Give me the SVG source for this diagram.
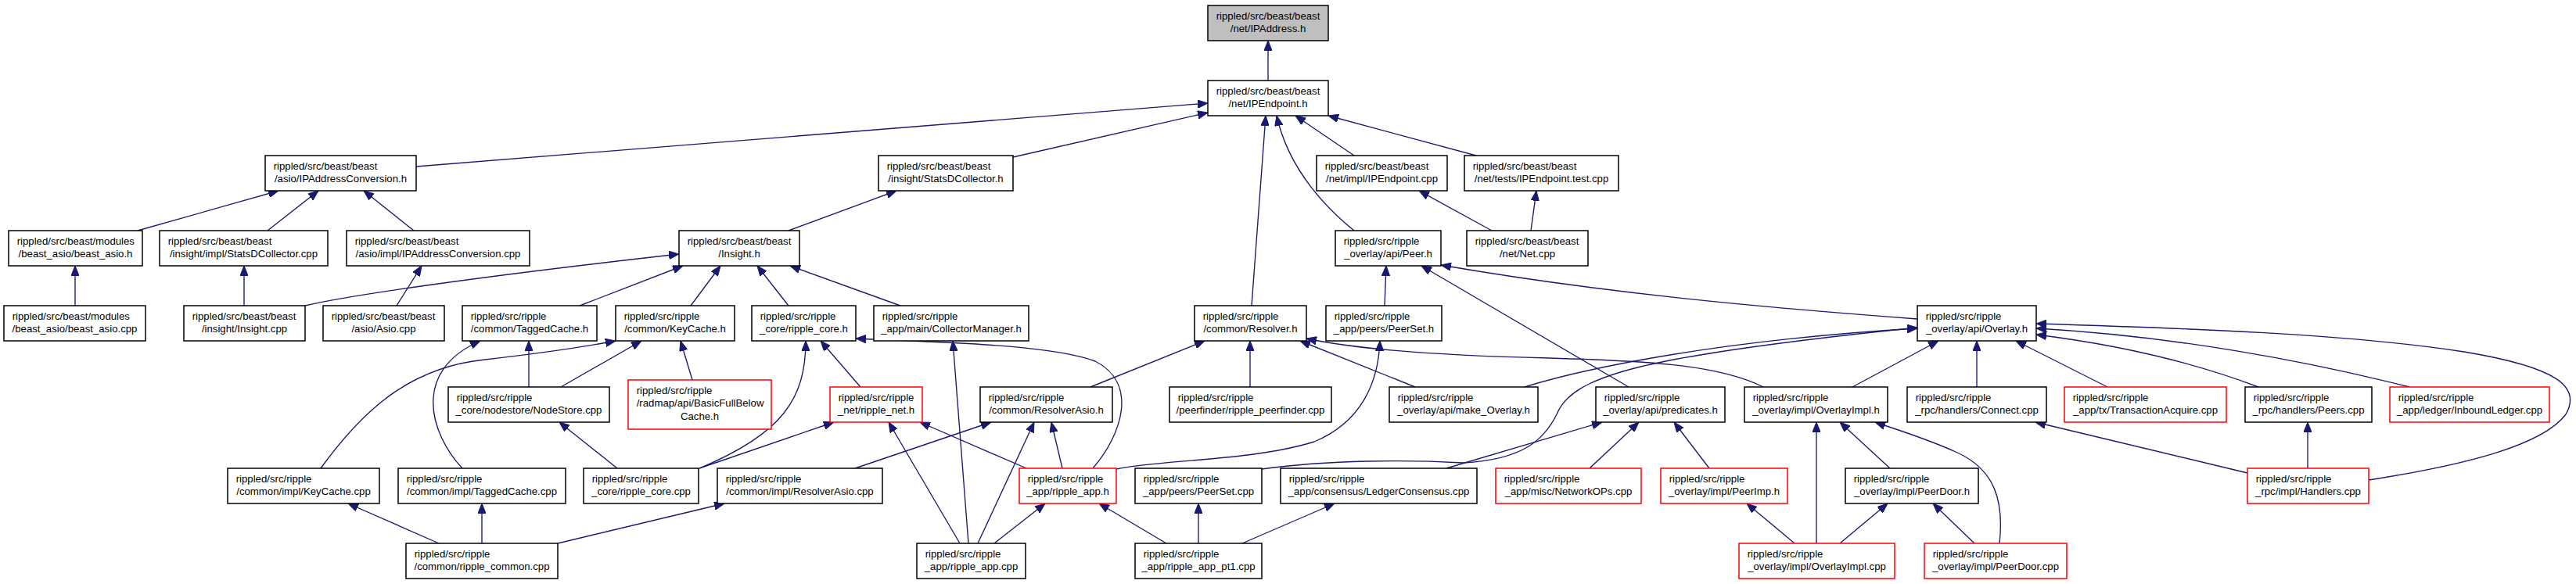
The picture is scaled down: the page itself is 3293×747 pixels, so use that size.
<svg xmlns="http://www.w3.org/2000/svg" width="3293" height="747" viewBox="0 0 3293 747">
<style>
.node rect{fill:#fff;stroke:#000;stroke-width:1.5}
.node rect.red{stroke:#f00}
.node rect.root{fill:#bfbfbf}
text{font-family:"Liberation Sans",Arial,Helvetica,sans-serif;font-size:13.2px;fill:#000}
text.c{text-anchor:middle}
#edges path{fill:none;stroke:#191970;stroke-width:1.35;marker-end:url(#ah)}
</style>
<defs>
<marker id="ah" viewBox="0 0 13 10.5" refX="13" refY="5.25" markerWidth="13" markerHeight="10.5" markerUnits="userSpaceOnUse" orient="auto">
<path d="M0,0 L13,5.25 L0,10.5 Z" fill="#191970" stroke="#191970" stroke-width="1"/>
</marker>
</defs>
<rect width="3293" height="747" fill="#fff"/>
<g id="edges">
<path d="M1621,103 L1621,52"/>
<path d="M532,213 L1544,132"/>
<path d="M1295,201 L1544,144"/>
<path d="M1731,199 L1656,148"/>
<path d="M1887,199 L1698,148"/>
<path d="M1600,391 L1618,148"/>
<path d="M1731,295 C1700,270 1648,220 1632,148"/>
<path d="M176,295 L356,244"/>
<path d="M342,295 L407,244"/>
<path d="M529,295 L465,244"/>
<path d="M96,391 L96,340"/>
<path d="M312,391 L312,340"/>
<path d="M507,391 L539,340"/>
<path d="M390,391 C440,379 600,355 868,325"/>
<path d="M741,391 L873,340"/>
<path d="M883,391 L921,340"/>
<path d="M1008,391 L968,340"/>
<path d="M1151,391 L1010,340"/>
<path d="M1008,295 L1146,244"/>
<path d="M1907,295 L1814,244"/>
<path d="M1957,295 L1964,244"/>
<path d="M676,495 L676,436"/>
<path d="M591,599 C550,555 525,475 614,436"/>
<path d="M717,495 L820,436"/>
<path d="M410,599 C460,530 520,470 620,460 C690,452 740,445 787,436"/>
<path d="M561,695 L445,644"/>
<path d="M616,695 L616,644"/>
<path d="M713,695 L926,644"/>
<path d="M789,599 L715,540"/>
<path d="M885,486 L870,436"/>
<path d="M894,599 C1000,555 1030,510 1030,436"/>
<path d="M894,599 L1066,540"/>
<path d="M1100,495 L1049,436"/>
<path d="M1397,599 C1435,555 1455,490 1400,462 C1340,440 1200,438 1094,433"/>
<path d="M1238,695 L1218,436"/>
<path d="M1227,695 L1136,540"/>
<path d="M1250,695 L1322,540"/>
<path d="M1271,695 L1336,644"/>
<path d="M1312,599 L1176,540"/>
<path d="M1358,599 L1344,540"/>
<path d="M1093,599 L1267,540"/>
<path d="M1394,495 L1540,436"/>
<path d="M1598,495 L1598,436"/>
<path d="M1491,695 L1405,644"/>
<path d="M1532,695 L1532,644"/>
<path d="M1588,695 L1706,644"/>
<path d="M1427,600 C1480,588 1600,590 1680,565 C1740,540 1762,490 1764,436"/>
<path d="M1613,600 C1700,588 1800,588 1870,592 C1950,588 1975,560 1990,530 C2010,480 2100,455 2451,419"/>
<path d="M1849,599 L2048,540"/>
<path d="M1809,495 L1662,436"/>
<path d="M2254,495 C2200,468 2120,462 1980,458 C1850,455 1740,448 1670,433"/>
<path d="M1949,495 C2030,470 2200,435 2451,420"/>
<path d="M2451,408 C2250,393 2050,375 1842,339"/>
<path d="M2082,495 L1817,340"/>
<path d="M1770,391 L1772,340"/>
<path d="M2368,495 L2478,436"/>
<path d="M2527,495 L2527,436"/>
<path d="M2694,495 L2577,436"/>
<path d="M2887,495 C2800,462 2700,440 2603,428"/>
<path d="M3080,495 C2950,462 2780,430 2603,420"/>
<path d="M3028,614 C3150,595 3250,570 3280,530 C3300,495 3270,470 3150,450 C3000,427 2800,420 2603,414"/>
<path d="M2873,605 L2602,540"/>
<path d="M2950,599 L2950,540"/>
<path d="M2524,695 L2471,644"/>
<path d="M2556,695 C2562,640 2550,600 2500,578 C2460,560 2420,548 2397,540"/>
<path d="M2416,599 L2352,540"/>
<path d="M2322,695 L2322,540"/>
<path d="M2294,695 L2233,644"/>
<path d="M2352,695 L2413,644"/>
<path d="M2185,599 L2140,540"/>
<path d="M2032,599 L2095,540"/>
</g>
<g id="n0" class="node"><rect class="root" x="1544" y="7" width="154" height="45"/><text x="1554.7" y="24.5">rippled/src/beast/beast</text><text class="c" x="1621" y="41.2">/net/IPAddress.h</text></g>
<g id="n1" class="node"><rect x="1544" y="103" width="154" height="45"/><text x="1554.7" y="120.5">rippled/src/beast/beast</text><text class="c" x="1621" y="137.2">/net/IPEndpoint.h</text></g>
<g id="n2" class="node"><rect x="339" y="199" width="193" height="45"/><text x="349.7" y="216.5">rippled/src/beast/beast</text><text class="c" x="435.5" y="233.2">/asio/IPAddressConversion.h</text></g>
<g id="n3" class="node"><rect x="1123" y="199" width="172" height="45"/><text x="1133.7" y="216.5">rippled/src/beast/beast</text><text class="c" x="1209" y="233.2">/insight/StatsDCollector.h</text></g>
<g id="n4" class="node"><rect x="1683" y="199" width="167" height="45"/><text x="1693.7" y="216.5">rippled/src/beast/beast</text><text class="c" x="1766.5" y="233.2">/net/impl/IPEndpoint.cpp</text></g>
<g id="n5" class="node"><rect x="1872" y="199" width="197" height="45"/><text x="1882.7" y="216.5">rippled/src/beast/beast</text><text class="c" x="1970.5" y="233.2">/net/tests/IPEndpoint.test.cpp</text></g>
<g id="n6" class="node"><rect x="11" y="295" width="171" height="45"/><text x="21.7" y="312.5">rippled/src/beast/modules</text><text class="c" x="96.5" y="329.2">/beast_asio/beast_asio.h</text></g>
<g id="n7" class="node"><rect x="204" y="295" width="215" height="45"/><text x="214.7" y="312.5">rippled/src/beast/beast</text><text class="c" x="311.5" y="329.2">/insight/impl/StatsDCollector.cpp</text></g>
<g id="n8" class="node"><rect x="443" y="295" width="234" height="45"/><text x="453.7" y="312.5">rippled/src/beast/beast</text><text class="c" x="560" y="329.2">/asio/impl/IPAddressConversion.cpp</text></g>
<g id="n9" class="node"><rect x="868" y="295" width="154" height="45"/><text x="878.7" y="312.5">rippled/src/beast/beast</text><text class="c" x="945" y="329.2">/Insight.h</text></g>
<g id="n10" class="node"><rect x="1707" y="295" width="135" height="45"/><text x="1717.7" y="312.5">rippled/src/ripple</text><text class="c" x="1774.5" y="329.2">_overlay/api/Peer.h</text></g>
<g id="n11" class="node"><rect x="1875" y="295" width="155" height="45"/><text x="1885.7" y="312.5">rippled/src/beast/beast</text><text class="c" x="1952.5" y="329.2">/net/Net.cpp</text></g>
<g id="n12" class="node"><rect x="5" y="391" width="181" height="45"/><text x="15.7" y="408.5">rippled/src/beast/modules</text><text class="c" x="95.5" y="425.2">/beast_asio/beast_asio.cpp</text></g>
<g id="n13" class="node"><rect x="235" y="391" width="155" height="45"/><text x="245.7" y="408.5">rippled/src/beast/beast</text><text class="c" x="312.5" y="425.2">/insight/Insight.cpp</text></g>
<g id="n14" class="node"><rect x="413" y="391" width="155" height="45"/><text x="423.7" y="408.5">rippled/src/beast/beast</text><text class="c" x="490.5" y="425.2">/asio/Asio.cpp</text></g>
<g id="n15" class="node"><rect x="591" y="391" width="172" height="45"/><text x="601.7" y="408.5">rippled/src/ripple</text><text class="c" x="677" y="425.2">/common/TaggedCache.h</text></g>
<g id="n16" class="node"><rect x="787" y="391" width="152" height="45"/><text x="797.7" y="408.5">rippled/src/ripple</text><text class="c" x="863" y="425.2">/common/KeyCache.h</text></g>
<g id="n17" class="node"><rect x="961" y="391" width="133" height="45"/><text x="971.7" y="408.5">rippled/src/ripple</text><text class="c" x="1027.5" y="425.2">_core/ripple_core.h</text></g>
<g id="n18" class="node"><rect x="1117" y="391" width="198" height="45"/><text x="1127.7" y="408.5">rippled/src/ripple</text><text class="c" x="1216" y="425.2">_app/main/CollectorManager.h</text></g>
<g id="n19" class="node"><rect x="1527" y="391" width="143" height="45"/><text x="1537.7" y="408.5">rippled/src/ripple</text><text class="c" x="1598.5" y="425.2">/common/Resolver.h</text></g>
<g id="n20" class="node"><rect x="1695" y="391" width="148" height="45"/><text x="1705.7" y="408.5">rippled/src/ripple</text><text class="c" x="1769" y="425.2">_app/peers/PeerSet.h</text></g>
<g id="n21" class="node"><rect x="2451" y="391" width="152" height="45"/><text x="2461.7" y="408.5">rippled/src/ripple</text><text class="c" x="2527" y="425.2">_overlay/api/Overlay.h</text></g>
<g id="n22" class="node"><rect x="573" y="495" width="206" height="45"/><text x="583.7" y="512.5">rippled/src/ripple</text><text class="c" x="676" y="529.2">_core/nodestore/NodeStore.cpp</text></g>
<g id="n23" class="node"><rect class="red" x="803" y="486" width="183" height="63"/><text x="813.7" y="503.5">rippled/src/ripple</text><text x="813.7" y="520.2">/radmap/api/BasicFullBelow</text><text class="c" x="894.5" y="536.9">Cache.h</text></g>
<g id="n24" class="node"><rect class="red" x="1061" y="495" width="118" height="45"/><text x="1071.7" y="512.5">rippled/src/ripple</text><text class="c" x="1120" y="529.2">_net/ripple_net.h</text></g>
<g id="n25" class="node"><rect x="1253" y="495" width="169" height="45"/><text x="1263.7" y="512.5">rippled/src/ripple</text><text class="c" x="1337.5" y="529.2">/common/ResolverAsio.h</text></g>
<g id="n26" class="node"><rect x="1495" y="495" width="207" height="45"/><text x="1505.7" y="512.5">rippled/src/ripple</text><text class="c" x="1598.5" y="529.2">/peerfinder/ripple_peerfinder.cpp</text></g>
<g id="n27" class="node"><rect x="1776" y="495" width="190" height="45"/><text x="1786.7" y="512.5">rippled/src/ripple</text><text class="c" x="1871" y="529.2">_overlay/api/make_Overlay.h</text></g>
<g id="n28" class="node"><rect x="2040" y="495" width="165" height="45"/><text x="2050.7" y="512.5">rippled/src/ripple</text><text class="c" x="2122.5" y="529.2">_overlay/api/predicates.h</text></g>
<g id="n29" class="node"><rect x="2230" y="495" width="183" height="45"/><text x="2240.7" y="512.5">rippled/src/ripple</text><text class="c" x="2321.5" y="529.2">_overlay/impl/OverlayImpl.h</text></g>
<g id="n30" class="node"><rect x="2438" y="495" width="178" height="45"/><text x="2448.7" y="512.5">rippled/src/ripple</text><text class="c" x="2527" y="529.2">_rpc/handlers/Connect.cpp</text></g>
<g id="n31" class="node"><rect class="red" x="2639" y="495" width="207" height="45"/><text x="2649.7" y="512.5">rippled/src/ripple</text><text class="c" x="2742.5" y="529.2">_app/tx/TransactionAcquire.cpp</text></g>
<g id="n32" class="node"><rect x="2870" y="495" width="162" height="45"/><text x="2880.7" y="512.5">rippled/src/ripple</text><text class="c" x="2951" y="529.2">_rpc/handlers/Peers.cpp</text></g>
<g id="n33" class="node"><rect class="red" x="3055" y="495" width="204" height="45"/><text x="3065.7" y="512.5">rippled/src/ripple</text><text class="c" x="3157" y="529.2">_app/ledger/InboundLedger.cpp</text></g>
<g id="n34" class="node"><rect x="291" y="599" width="194" height="45"/><text x="301.7" y="616.5">rippled/src/ripple</text><text class="c" x="388" y="633.2">/common/impl/KeyCache.cpp</text></g>
<g id="n35" class="node"><rect x="509" y="599" width="214" height="45"/><text x="519.7" y="616.5">rippled/src/ripple</text><text class="c" x="616" y="633.2">/common/impl/TaggedCache.cpp</text></g>
<g id="n36" class="node"><rect x="746" y="599" width="147" height="45"/><text x="756.7" y="616.5">rippled/src/ripple</text><text class="c" x="819.5" y="633.2">_core/ripple_core.cpp</text></g>
<g id="n37" class="node"><rect x="917" y="599" width="211" height="45"/><text x="927.7" y="616.5">rippled/src/ripple</text><text class="c" x="1022.5" y="633.2">/common/impl/ResolverAsio.cpp</text></g>
<g id="n38" class="node"><rect class="red" x="1303" y="599" width="124" height="45"/><text x="1313.7" y="616.5">rippled/src/ripple</text><text class="c" x="1365" y="633.2">_app/ripple_app.h</text></g>
<g id="n39" class="node"><rect x="1451" y="599" width="162" height="45"/><text x="1461.7" y="616.5">rippled/src/ripple</text><text class="c" x="1532" y="633.2">_app/peers/PeerSet.cpp</text></g>
<g id="n40" class="node"><rect x="1637" y="599" width="251" height="45"/><text x="1647.7" y="616.5">rippled/src/ripple</text><text class="c" x="1762.5" y="633.2">_app/consensus/LedgerConsensus.cpp</text></g>
<g id="n41" class="node"><rect class="red" x="1912" y="599" width="186" height="45"/><text x="1922.7" y="616.5">rippled/src/ripple</text><text class="c" x="2005" y="633.2">_app/misc/NetworkOPs.cpp</text></g>
<g id="n42" class="node"><rect class="red" x="2123" y="599" width="162" height="45"/><text x="2133.7" y="616.5">rippled/src/ripple</text><text class="c" x="2204" y="633.2">_overlay/impl/PeerImp.h</text></g>
<g id="n43" class="node"><rect x="2359" y="599" width="170" height="45"/><text x="2369.7" y="616.5">rippled/src/ripple</text><text class="c" x="2444" y="633.2">_overlay/impl/PeerDoor.h</text></g>
<g id="n44" class="node"><rect class="red" x="2873" y="599" width="155" height="45"/><text x="2883.7" y="616.5">rippled/src/ripple</text><text class="c" x="2950.5" y="633.2">_rpc/impl/Handlers.cpp</text></g>
<g id="n45" class="node"><rect x="519" y="695" width="194" height="45"/><text x="529.7" y="712.5">rippled/src/ripple</text><text class="c" x="616" y="729.2">/common/ripple_common.cpp</text></g>
<g id="n46" class="node"><rect x="1172" y="695" width="139" height="45"/><text x="1182.7" y="712.5">rippled/src/ripple</text><text class="c" x="1241.5" y="729.2">_app/ripple_app.cpp</text></g>
<g id="n47" class="node"><rect x="1451" y="695" width="162" height="45"/><text x="1461.7" y="712.5">rippled/src/ripple</text><text class="c" x="1532" y="729.2">_app/ripple_app_pt1.cpp</text></g>
<g id="n48" class="node"><rect class="red" x="2223" y="695" width="199" height="45"/><text x="2233.7" y="712.5">rippled/src/ripple</text><text class="c" x="2322.5" y="729.2">_overlay/impl/OverlayImpl.cpp</text></g>
<g id="n49" class="node"><rect class="red" x="2460" y="695" width="182" height="45"/><text x="2470.7" y="712.5">rippled/src/ripple</text><text class="c" x="2551" y="729.2">_overlay/impl/PeerDoor.cpp</text></g>
</svg>
